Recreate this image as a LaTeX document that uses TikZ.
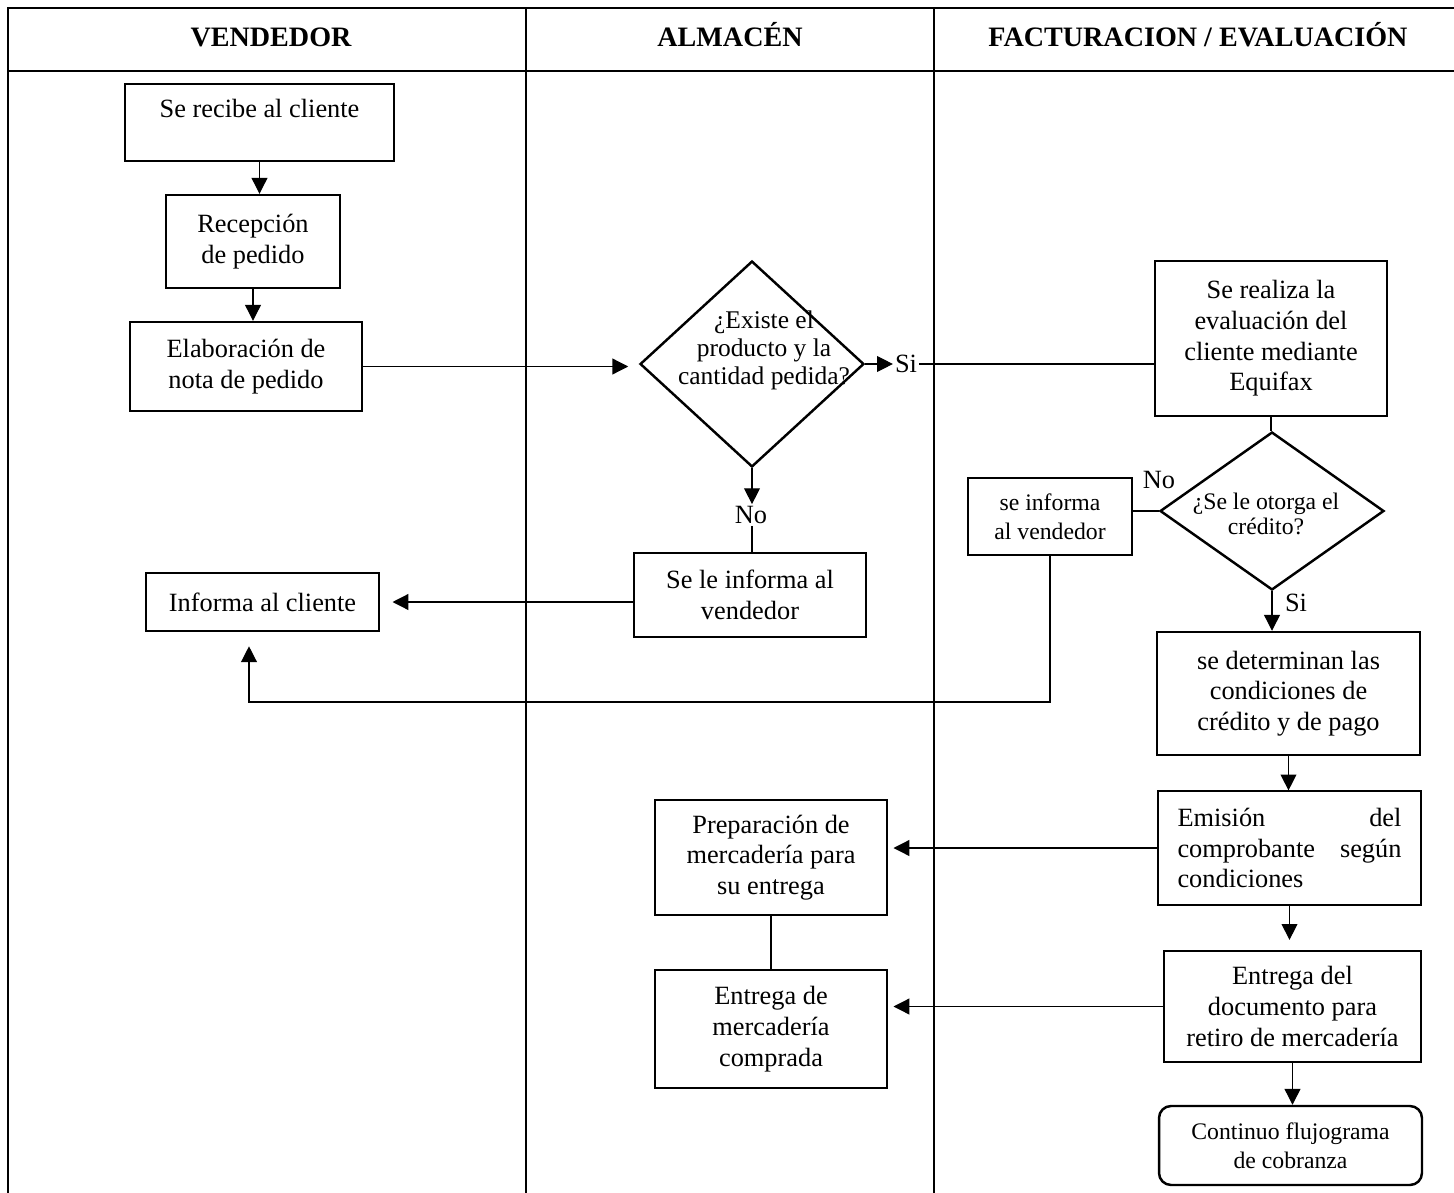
\documentclass[tikz,border=0pt]{standalone}
\usepackage{fontspec}
\setmainfont{Liberation Serif}
\usetikzlibrary{shapes.geometric, positioning, calc, arrows.meta}

\begin{document}
\begin{tikzpicture}[x=0.02cm, y=-0.02cm,
    box/.style={draw, line width=1.4pt, align=center, inner sep=0pt, font=\fontsize{15}{17.5}\selectfont},
    thinbox/.style={box, line width=0.7pt},
    decision/.style={draw, diamond, line width=1.4pt, inner sep=0pt},
    head/.style={anchor=base, font=\fontsize{16}{19}\selectfont\bfseries},
    lbl/.style={inner sep=1pt, font=\fontsize{15}{17.5}\selectfont},
    small/.style={font=\fontsize{13.5}{16.5}\selectfont},
    flow/.style={-{Triangle[length=9pt,width=9pt]}, line width=0.7pt},
    link/.style={line width=0.7pt}]

    \useasboundingbox (0,0) rectangle (1454,1193);

    % Lanes and headers
    \draw[line width=1pt] (8,1193) -- (8,8) -- (1454,8);
    \draw[line width=1pt] (8,71) -- (1454,71);
    \draw[line width=0.8pt] (526,8) -- (526,1193);
    \draw[line width=0.8pt] (934,8) -- (934,1193);
    \node[head] (hven) at (271,47) {VENDEDOR};
    \node[head] (halm) at (730,47) {ALMACÉN};
    \node[head] (hfac) at (1198,47) {FACTURACION / EVALUACIÓN};

    % Vendedor
    \node[box, minimum width=5.38cm, minimum height=1.54cm, text depth=16pt] (r1) at (259.5,122.5) {Se recibe al cliente};
    \node[box, minimum width=3.48cm, minimum height=1.86cm] (r2) at (253,241.5) {Recepción\\de pedido};
    \node[box, minimum width=4.64cm, minimum height=1.78cm] (r3) at (246,366.5) {Elaboración de\\nota de pedido};
    \node[box, minimum width=4.66cm, minimum height=1.16cm] (r7) at (262.5,602) {Informa al cliente};

    % Almacen
    \node[decision, minimum width=4.48cm, minimum height=4.12cm] (d1) at (752,364) {};
    \node[align=center, inner sep=0pt, font=\fontsize{14.5}{16}\selectfont] (d1t) at (764,350) {¿Existe el\\producto y la\\cantidad pedida?};
    \node[box, minimum width=4.64cm, minimum height=1.68cm] (r6) at (750,595) {Se le informa al\\vendedor};
    \node[box, minimum width=4.64cm, minimum height=2.30cm] (r10) at (771,857.5) {Preparación de\\mercadería para\\su entrega};
    \node[box, minimum width=4.64cm, minimum height=2.36cm] (r12) at (771,1029) {Entrega de\\mercadería\\comprada};

    % Facturacion / evaluacion
    \node[box, minimum width=4.64cm, minimum height=3.10cm] (r4) at (1271,338.5) {Se realiza la\\evaluación del\\cliente mediante\\Equifax};
    \node[decision, minimum width=4.48cm, minimum height=3.16cm] (d2) at (1272,511) {};
    \node[align=center, inner sep=0pt, font=\fontsize{13.5}{14.5}\selectfont] (d2t) at (1266,514) {¿Se le otorga el\\crédito?};
    \node[box, small, minimum width=3.28cm, minimum height=1.54cm] (r5) at (1050,516.5) {se informa\\al vendedor};
    \node[box, minimum width=5.26cm, minimum height=2.46cm] (r8) at (1288.5,693.5) {se determinan las\\condiciones de\\crédito y de pago};
    \node[thinbox, minimum width=5.26cm, minimum height=2.28cm, text width=4.48cm, align=left] (r9) at (1289.5,848) {Emisión\hfill del\\comprobante\hfill según\\condiciones};
    \node[thinbox, minimum width=5.14cm, minimum height=2.22cm] (r11) at (1292.5,1006.5) {Entrega del\\documento para\\retiro de mercadería};
    \node[box, small, rounded corners=0.24cm, minimum width=5.26cm, minimum height=1.58cm] (r13) at (1290.5,1145.5) {Continuo flujograma\\de cobranza};

    % Labels
    \node[lbl] (si1) at (906,364) {Si};
    \node[lbl] (no1) at (751,515) {No};
    \node[lbl] (no2) at (1159,480) {No};
    \node[lbl] (si2) at (1296,603) {Si};

    % Connectors
    \draw[flow] (r1.south) -- (r1.south |- r2.north);
    \draw[flow] (r2.south) -- (r2.south |- r3.north);
    \draw[flow, shorten >=6pt] (r3.east) -- (r3.east -| d1.west);
    \draw[flow] (d1.east) -- (si1.west);
    \draw[link] (si1.east) -- (si1.east -| r4.west);
    \draw[flow] (d1.south) -- (d1.south |- no1.north);
    \draw[link] (d1.south |- no1.south) -- (d1.south |- r6.north);
    \draw[flow, shorten >=7pt] (r6.west |- r7.east) -- (r7.east);
    \draw[link] (r4.south) -- (r4.south |- d2.north);
    \draw[link] (d2.west) -- (d2.west -| r5.east);
    \draw[flow] (d2.south) -- (d2.south |- r8.north);
    \coordinate (back) at (249,702);
    \draw[flow, shorten >=8pt] (r5.south) |- (back) -- (back |- r7.south);
    \draw[flow] (r8.south) -- (r8.south |- r9.north);
    \draw[flow, shorten >=3pt] (r9.west) -- (r9.west -| r10.east);
    \draw[flow, shorten >=6pt] (r9.south) -- (r9.south |- r11.north);
    \draw[link] (r10.south) -- (r12.north);
    \draw[flow, shorten >=3pt] (r11.west) -- (r11.west -| r12.east);
    \draw[flow] (r11.south) -- (r11.south |- r13.north);

\end{tikzpicture}
\end{document}
